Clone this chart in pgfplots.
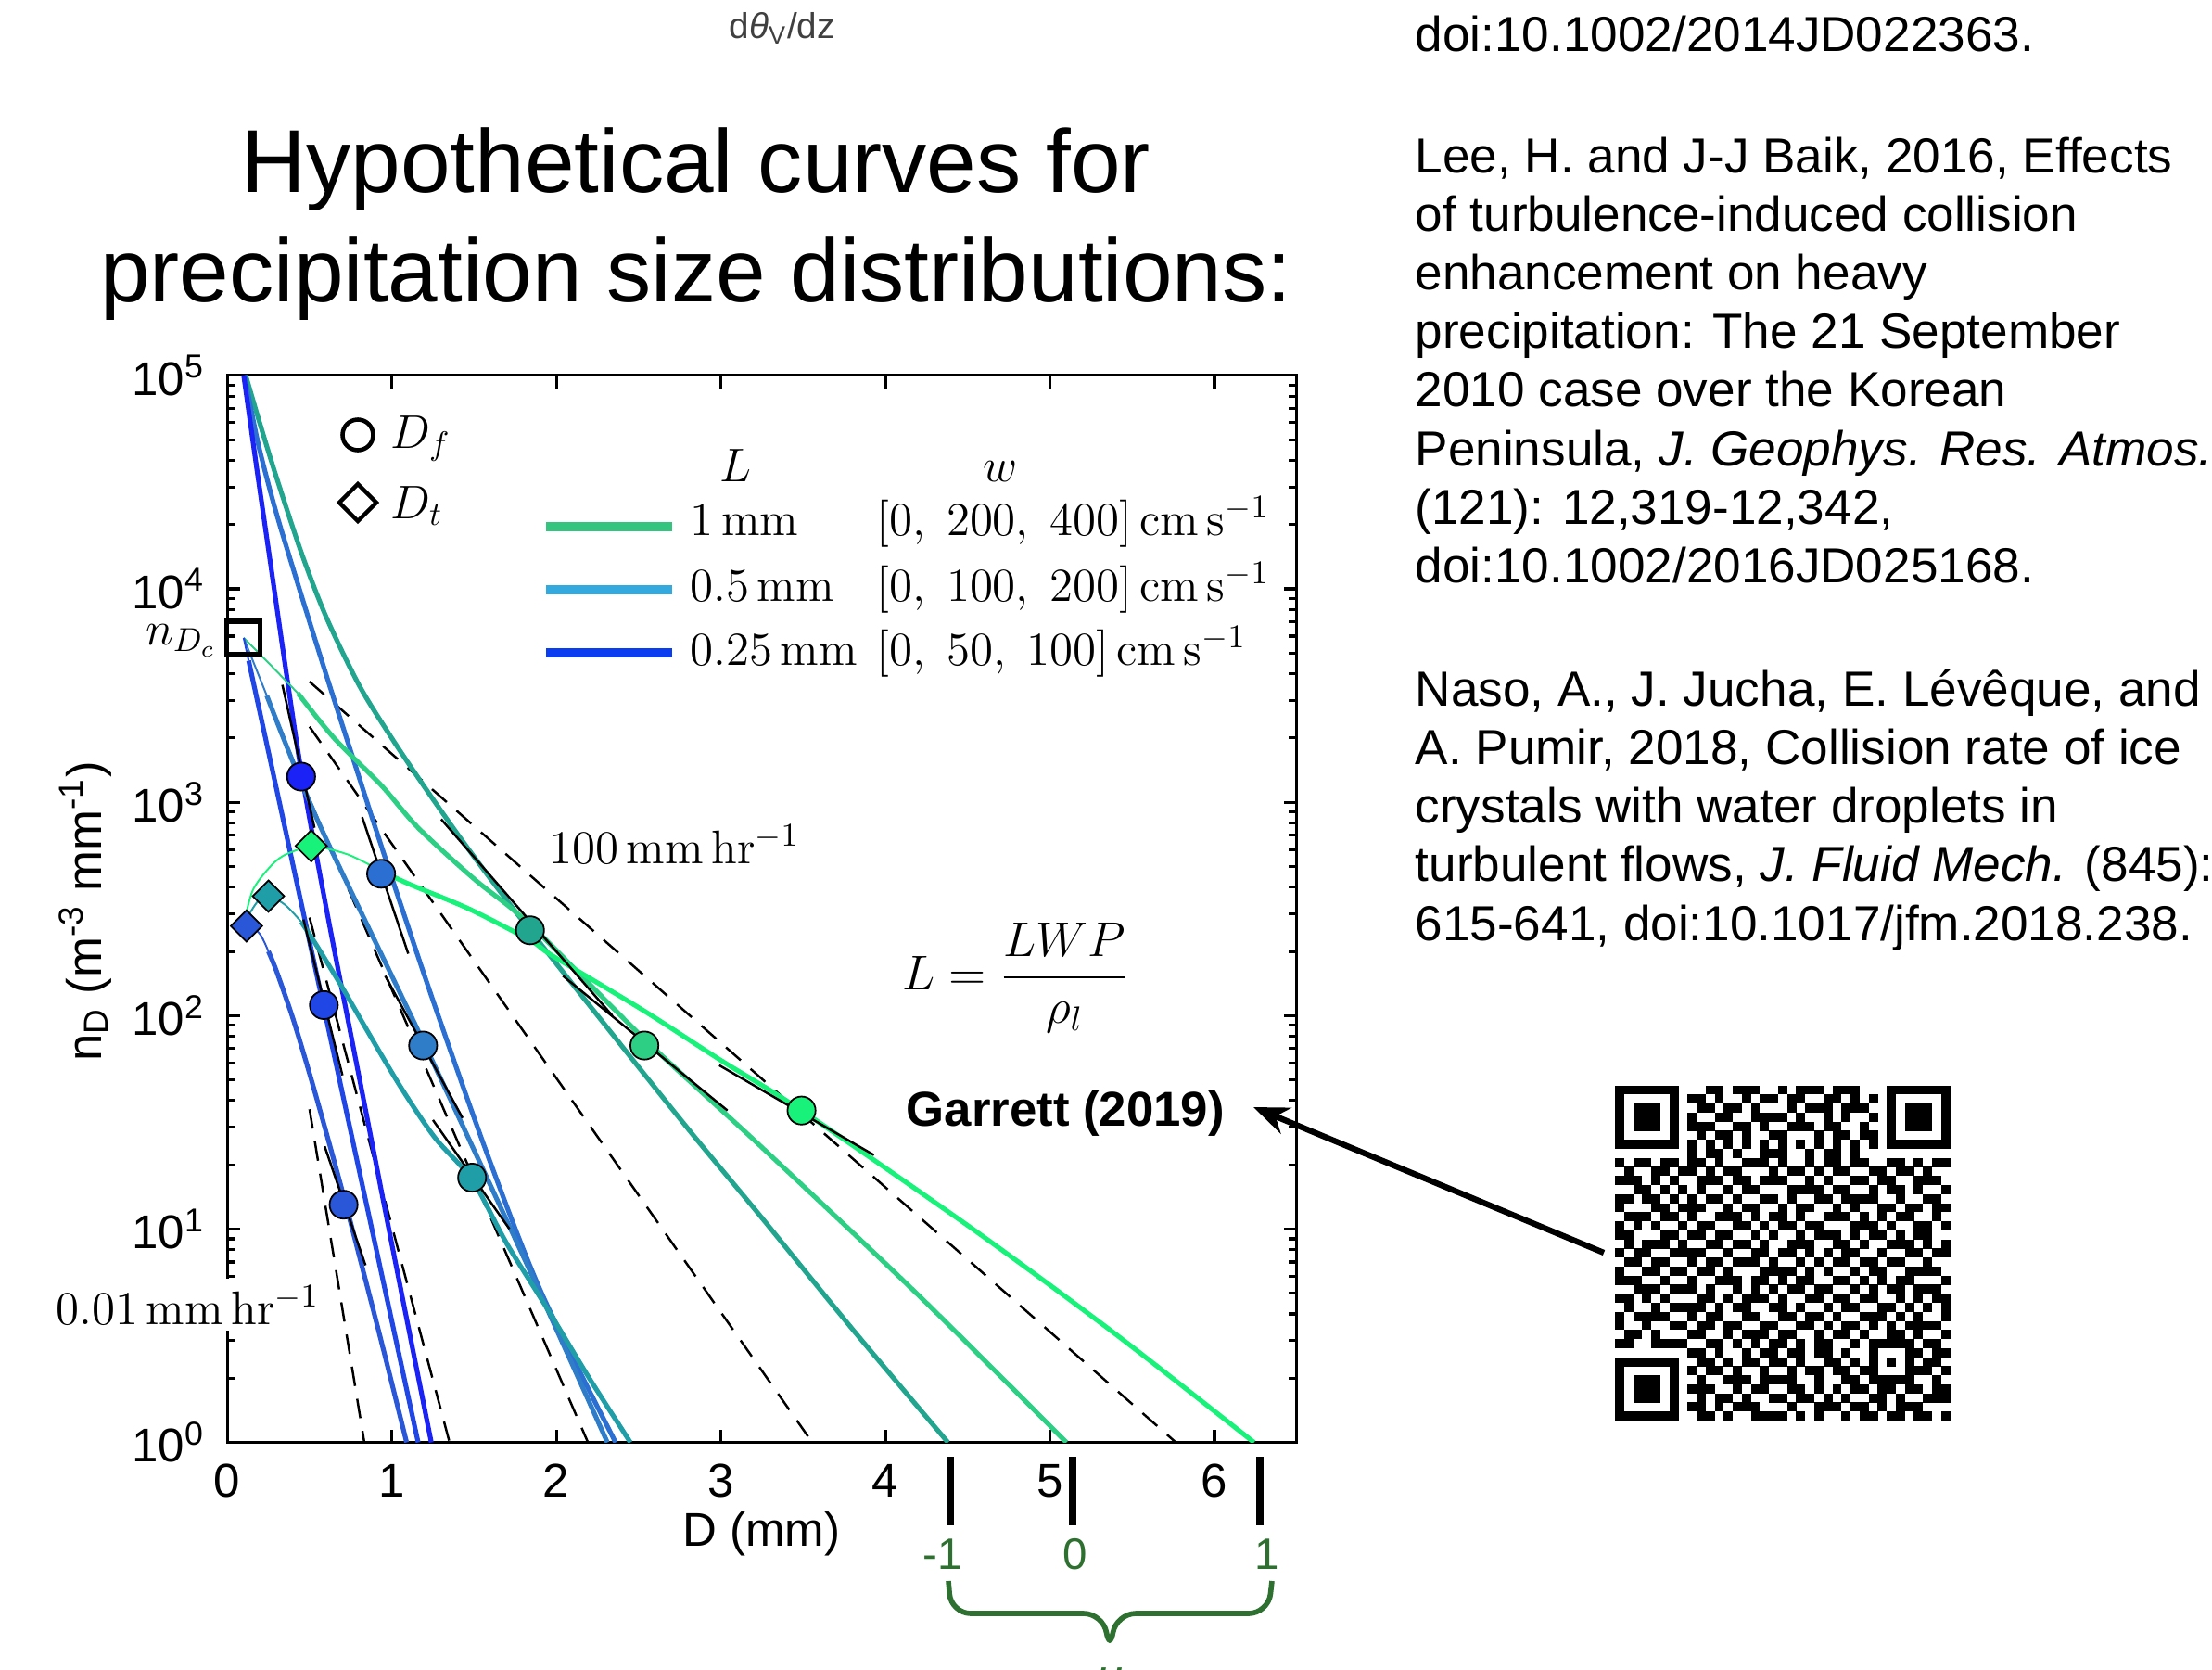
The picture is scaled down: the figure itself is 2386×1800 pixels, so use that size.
\RequirePackage{fix-cm}
\documentclass[border=0pt]{standalone}
\usepackage[no-math]{fontspec}
\setmainfont{Liberation Sans}
\usepackage{amsmath}
\usepackage{pgfplots}
\pgfplotsset{compat=1.18}
\usetikzlibrary{arrows.meta}

\definecolor{cA1}{HTML}{22A58E}
\definecolor{cA2}{HTML}{2B6FD2}
\definecolor{cA3}{HTML}{1A22F5}
\definecolor{cB1}{HTML}{2DCF85}
\definecolor{cB2}{HTML}{2F7CC8}
\definecolor{cB3}{HTML}{2046E6}
\definecolor{cC1}{HTML}{19F27A}
\definecolor{cC2}{HTML}{1F9EA8}
\definecolor{cC3}{HTML}{2A56D8}
\definecolor{lg1}{HTML}{33C47F}
\definecolor{lg2}{HTML}{34A9DD}
\definecolor{lg3}{HTML}{0A3CF0}
\definecolor{mugreen}{HTML}{2E7030}

\pgfplotsset{thk/.style={line width=1.45pt,no markers},thn/.style={line width=0.55pt,no markers},
  mp/.style={black,line width=0.7pt,dash pattern=on 6pt off 4pt,no markers},
  tan/.style={black,line width=0.7pt,no markers},
  df/.style={only marks,mark=*,mark size=4.3pt,mark options={draw=black,line width=0.5pt,fill=#1}},
  dt/.style={only marks,mark=square*,mark size=3.4pt,mark options={rotate=45,draw=black,line width=0.5pt,fill=#1}}}

% QR modules, one row per call
\newcount\qrc
\newcount\qrr
\def\qrrow#1{\global\qrc=0 \qrscan#1.\global\advance\qrr by 1 }
\def\qrscan#1{\ifx#1.\else\if#11\fill (1742+\the\qrc*9.77,1170.5+\the\qrr*9.77) rectangle ++(9.9,9.9);\fi\global\advance\qrc by 1 \expandafter\qrscan\fi}

\begin{document}
\begin{tikzpicture}[x=0.01cm,y=-0.01cm]
\path[use as bounding box] (0,0) rectangle (2386,1800);
\fill[white] (0,0) rectangle (2386,1800);
\clip (0,0) rectangle (2386,1800);

\begin{axis}[at={(2.45cm,-15.546cm)},anchor=south west,scale only axis,
  width=11.53cm,height=11.5cm,
  xmin=0,xmax=6.5,ymode=log,ymin=1,ymax=100000,
  xtick={0,1,2,3,4,5,6},xticklabels={0,1,2,3,4,5,6},
  ytick={1,10,100,1000,10000,100000},
  yticklabels={10\textsuperscript{0},10\textsuperscript{1},10\textsuperscript{2},10\textsuperscript{3},10\textsuperscript{4},10\textsuperscript{5}},
  minor ytick={2,3,4,5,6,7,8,9,20,30,40,50,60,70,80,90,200,300,400,500,600,700,800,900,2000,3000,4000,5000,6000,7000,8000,9000,20000,30000,40000,50000,60000,70000,80000,90000},
  tick align=inside,
  major tick length=0.14cm,minor tick length=0.09cm,
  axis line style={line width=0.9pt},
  tick style={black,line width=0.9pt},
  tick label style={font=\fontsize{14.5}{16}\selectfont},
  xticklabel style={yshift=-0.11cm},
  yticklabel style={xshift=-0.12cm},
]
% Marshall-Palmer lines, 0.01 to 100 mm/hr
\addplot[mp] coordinates {(0.5,3673) (5.765,1)};
\addplot[mp] coordinates {(0.5,2259) (3.555,1)};
\addplot[mp] coordinates {(0.5,1030) (2.192,1)};
\addplot[mp] coordinates {(0.5,288) (1.351,1)};
\addplot[mp] coordinates {(0.5,36.4) (0.833,1)};

% mu = -1
\addplot[cA1,thk,smooth] coordinates {(0.112,100000)(0.2,58884)(0.3,33113)(0.45,14791)(0.6,7413)(0.8,3548)(1.0,1995)(1.2,1175)(1.4,708)(1.6,437)(1.84,251)(2.2,112)(2.8,29.5)(3.24,11.5)(3.8,3.39)(4.38,1)};
\addplot[cA2,thk,smooth] coordinates {(0.105,100000)(0.15,66069)(0.2,43652)(0.3,22387)(0.45,9333)(0.6,3981)(0.75,1738)(0.9,759)(1.05,339)(1.26,112)(1.585,21.9)(1.91,5.01)(2.36,1)};
\addplot[cA3,thk,smooth] coordinates {(0.1,100000)(0.18,36300)(0.27,12023)(0.36,3981)(0.455,1318)(0.605,309)(0.83,39.8)(1.0,8.51)(1.24,1)};

% mu = 0
\addplot[cB1,thn,smooth] coordinates {(0.1,5888)(0.25,4500)(0.43,3236)};
\addplot[cB1,thk,smooth] coordinates {(0.43,3236)(0.65,1995)(0.935,1202)(1.16,759)(1.5,437)(1.85,263)(2.535,77.6)(3.24,24.5)(4.2,4.90)(5.10,1)};
\addplot[cB2,thn] coordinates {(0.1,5888)(0.24,3162)};
\addplot[cB2,thk,smooth] coordinates {(0.24,3162)(0.558,794)(1.19,75.9)(1.8,7.41)(2.31,1)};
\addplot[cB3,thn] coordinates {(0.1,5888)(0.13,4603)};
\addplot[cB3,thk] coordinates {(0.13,4603)(0.3,1148)(0.587,109)(0.9,8.4)(1.16,1)};

% mu = 1
\addplot[cC1,thn,smooth] coordinates {(0.1,269)(0.154,385)(0.248,486)(0.342,562)(0.51,624)(0.62,603)(0.75,562)(0.906,490)};
\addplot[cC1,thk,smooth] coordinates {(0.906,490)(1.094,417)(1.47,316)(1.846,224)(1.975,191)(2.535,105)(3.0,61.7)(3.49,35.9)(4.53,10)(5.40,3.21)(6.24,1)};
\addplot[cC2,thn,smooth] coordinates {(0.1,269)(0.18,339)(0.25,363)(0.35,331)(0.45,275)};
\addplot[cC2,thk,smooth] coordinates {(0.45,275)(0.55,209)(0.7,135)(0.85,85.1)(1.05,46.8)(1.26,26.9)(1.488,17.0)(1.7,8.51)(1.95,4.17)(2.2,2.0)(2.45,1)};
\addplot[cC3,thn,smooth] coordinates {(0.1,269)(0.117,275)(0.2,240)(0.25,200)};
\addplot[cC3,thk,smooth] coordinates {(0.25,200)(0.3,161)(0.4,96.4)(0.5,53.5)(0.6,28.6)(0.71,14.0)(0.83,6.19)(0.95,2.70)(1.09,1)};

% tangents at D_f
\addplot[tan] coordinates {(0.335,3548)(0.53,759)};
\addplot[tan] coordinates {(0.82,851)(1.10,195)};
\addplot[tan] coordinates {(1.30,832)(2.34,100)};
\addplot[tan] coordinates {(2.04,153.5)(3.04,35.9)};
\addplot[tan] coordinates {(2.99,58.5)(3.93,22.2)};
\addplot[tan] coordinates {(0.463,282)(0.70,52.5)};
\addplot[tan] coordinates {(0.96,153.5)(1.43,33.1)};
\addplot[tan] coordinates {(1.25,32.4)(1.715,10)};
\addplot[tan] coordinates {(0.592,24.4)(0.84,6.76)};

% D_f
\addplot[df=cA3] coordinates {(0.449,1318)};
\addplot[df=cA2] coordinates {(0.935,462)};
\addplot[df=cA1] coordinates {(1.84,251)};
\addplot[df=cB1] coordinates {(2.535,72.4)};
\addplot[df=cC1] coordinates {(3.49,35.9)};
\addplot[df=cB3] coordinates {(0.587,112)};
\addplot[df=cB2] coordinates {(1.19,72.4)};
\addplot[df=cC2] coordinates {(1.488,17.4)};
\addplot[df=cC3] coordinates {(0.707,13.0)};
% D_t
\addplot[dt=cC3] coordinates {(0.117,263)};
\addplot[dt=cC2] coordinates {(0.25,363)};
\addplot[dt=cC1] coordinates {(0.51,624)};
% n_Dc
\addplot[only marks,mark=square,mark size=5.1pt,mark options={draw=black,line width=1.5pt}] coordinates {(0.098,5888)};
\end{axis}

% axis labels
\node[anchor=base,font=\fontsize{14.5}{17}\selectfont] at (821.5,1667) {D (mm)};
\node[rotate=90,anchor=base,font=\fontsize{15}{18}\selectfont] at (109,983) {n\textsubscript{D} (m\textsuperscript{-3} mm\textsuperscript{-1})};

% in-plot legend and notes
\draw[line width=1.3pt] (386,469) circle[radius=0.165cm];
\draw[line width=1.3pt] (386,522) -- (406,542) -- (386,562) -- (366,542) -- cycle;
\begin{scope}[every node/.style={inner sep=0,font=\fontsize{14.5}{17}\selectfont}]
\node[anchor=base west] at (421,483) {$D_f$};
\node[anchor=base west] at (421,559) {$D_t$};
\node[anchor=base west] at (776,519) {$L$};
\node[anchor=base west] at (1060,519) {$w$};
\draw[lg1,line width=3.1pt] (589,568) -- (725,568);
\draw[lg2,line width=3.1pt] (589,636) -- (725,636);
\draw[lg3,line width=3.1pt] (589,704) -- (725,704);
\node[anchor=base west] at (744,577) {$1\,\mathrm{mm}$};
\node[anchor=base west] at (744,648) {$0.5\,\mathrm{mm}$};
\node[anchor=base west] at (744,717) {$0.25\,\mathrm{mm}$};
\node[anchor=base west] at (945,577) {$[0,\ 200,\ 400]\,\mathrm{cm\,s^{-1}}$};
\node[anchor=base west] at (945,648) {$[0,\ 100,\ 200]\,\mathrm{cm\,s^{-1}}$};
\node[anchor=base west] at (945,717) {$[0,\ 50,\ 100]\,\mathrm{cm\,s^{-1}}$};
\node[anchor=base west] at (592,931) {$100\,\mathrm{mm\,hr^{-1}}$};
\node[anchor=base west,fill=white,inner sep=2pt] at (53,1428) {$0.01\,\mathrm{mm\,hr^{-1}}$};
\node[anchor=base east] at (234,695) {$n_{D_c}$};
\end{scope}
\node[font=\fontsize{15}{18}\selectfont] at (1096,1055) {$L=\dfrac{LWP}{\rho_l}$};
\node[anchor=base west,inner sep=0,font=\bfseries\fontsize{15}{18}\selectfont] at (977,1214) {Garrett (2019)};
\draw[line width=1.8pt,-{Stealth[length=0.38cm,width=0.3cm]}] (1730,1351) -- (1352,1194);

% mu bracket under the axis
\draw[line width=2.4pt] (1025,1571) -- (1025,1645);
\draw[line width=2.4pt] (1157,1571) -- (1157,1645);
\draw[line width=2.4pt] (1359,1571) -- (1359,1645);
\begin{scope}[every node/.style={anchor=center,text=mugreen,font=\fontsize{13.5}{16}\selectfont}]
\node at (1017,1676) {-1};
\node at (1160,1676) {0};
\node at (1367,1676) {1};
\end{scope}
\draw[mugreen,line width=1.6pt,rounded corners=6] (1023,1705) -- (1026,1740) -- (1190,1740) -- (1197,1781) -- (1204,1740) -- (1368,1740) -- (1372,1705);
\node[anchor=north,text=mugreen,font=\itshape\fontsize{15}{18}\selectfont] at (1197,1786) {μ};

% title and header
\node[anchor=base west,inner sep=0,text=black!75,font=\fontsize{11}{13}\selectfont] at (786,42) {d\textit{θ}\textsubscript{V}/dz};
\node[anchor=base,font=\fontsize{27.4}{32}\selectfont] at (751,208) {Hypothetical curves for};
\node[anchor=base,font=\fontsize{27.4}{32}\selectfont] at (751,325) {precipitation size distributions:};

% references
\begin{scope}[every node/.style={anchor=base west,inner sep=0,font=\fontsize{15.1}{18}\selectfont}]
\node at (1526,56) {doi:10.1002/2014JD022363.};
\node at (1526,186) {Lee, H. and J-J Baik, 2016, Effects};
\node at (1526,249) {of turbulence-induced collision};
\node at (1526,312) {enhancement on heavy};
\node at (1526,375) {precipitation: The 21 September};
\node at (1526,438) {2010 case over the Korean};
\node at (1526,502) {Peninsula, \textit{J. Geophys. Res. Atmos.}};
\node at (1526,565) {(121): 12,319-12,342,};
\node at (1526,628) {doi:10.1002/2016JD025168.};
\node at (1526,761) {Naso, A., J. Jucha, E. Lévêque, and};
\node at (1526,824) {A. Pumir, 2018, Collision rate of ice};
\node at (1526,887) {crystals with water droplets in};
\node at (1526,950) {turbulent flows, \textit{J. Fluid Mech.} (845):};
\node at (1526,1014) {615-641, doi:10.1017/jfm.2018.238.};
\end{scope}

% QR code
\global\qrr=0
\qrrow{1111111 0 001101110010111011100 0 1111111}
\qrrow{1000001 0 110100101101100110101 0 1000001}
\qrrow{1011101 0 011011010001011101110 0 1011101}
\qrrow{1011101 0 100110011110100101001 0 1011101}
\qrrow{1011101 0 111001101001110110010 0 1011101}
\qrrow{1000001 0 010110100110001011011 0 1000001}
\qrrow{1111111 0 101010101010101010101 0 1111111}
\qrrow{00000000 101101001110010110100 00000000}
\qrrow{101101 1 0110100111 0100101101 1001101011}
\qrrow{010011 0 1101011000 1011010110 0110110100}
\qrrow{111010 1 0011101101 1100101001 1011001110}
\qrrow{001101 0 1010010110 0011110110 0101101001}
\qrrow{110110 1 0101101001 1010011011 1100100110}
\qrrow{100011 0 1110010110 0101100101 0011011011}
\qrrow{011101 1 0100111010 1101001110 1010110010}
\qrrow{101010 0 1011001101 0110110001 1101001101}
\qrrow{110001 1 0110110010 1001011101 0110101100}
\qrrow{010111 0 1001101101 0011100110 1001110101}
\qrrow{101100 1 1110010011 0110101011 0010011011}
\qrrow{011011 0 0101101110 1001010110 1101100100}
\qrrow{100110 1 1011010001 1110101001 0110011110}
\qrrow{111001 0 0100111011 0101100110 1010110001}
\qrrow{001110 1 1101001010 1011011001 0101101110}
\qrrow{110101 0 0011010111 0100110110 1100101011}
\qrrow{010010 1 1110101100 1101001011 0011010101}
\qrrow{101111 0 0101100110 0110110100 1110101001}
\qrrow{100100 1 1011011001 1001101011 0101011110}
\qrrow{011010 0 0110010111 0110010110 1001101001}
\qrrow{110011 1 1001101010 1101011001 0 11111 0110}
\qrrow{00000000 1101001011 0110110100 10001 1011}
\qrrow{1111111 0 0110101101 1010011010 10101 0110}
\qrrow{1000001 0 1011010010 0101101101 10001 1101}
\qrrow{1011101 0 0100111011 1100100110 11111 0010}
\qrrow{1011101 0 1110010110 0110101011 01101 1011}
\qrrow{1011101 0 0101101001 1011010100 11010 0111}
\qrrow{1000001 0 1101011100 0100111011 01011 1000}
\qrrow{1111111 0 0110100111 1010100101 10110 1101}
\end{tikzpicture}
\end{document}
